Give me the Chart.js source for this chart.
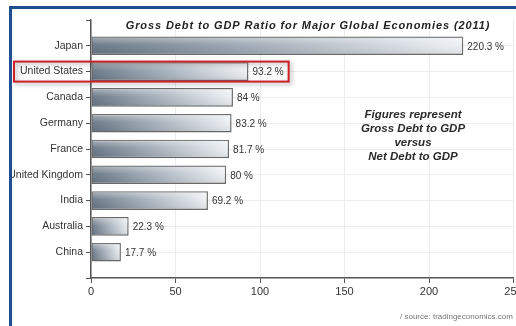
<!DOCTYPE html>
<html>
<head>
<meta charset="utf-8">
<script src="https://cdn.jsdelivr.net/npm/chart.js@4.4.1/dist/chart.umd.min.js"></script>
<style>
  html, body { margin: 0; padding: 0; background: #fff; overflow: hidden; width: 516px; height: 326px; }
  canvas { display: block; }
</style>
</head>
<body>
<canvas id="c" width="530" height="326"></canvas>
<script>
const countries = ['Japan', 'United States', 'Canada', 'Germany', 'France', 'United Kingdom', 'India', 'Australia', 'China'];
const debtToGdp = [220.3, 93.2, 84, 83.2, 81.7, 80, 69.2, 22.3, 17.7];
const xTicks = [0, 50, 100, 150, 200, 250];
const titleText = 'Gross Debt to GDP Ratio for Major Global Economies (2011)';
const noteLines = ['Figures represent', 'Gross Debt to GDP', 'versus', 'Net Debt to GDP'];
const highlighted = 'United States';
const sourceText = '/ source: tradingeconomics.com';

const FONT = '"Liberation Sans", Arial, sans-serif';
const labels = [''].concat(countries, ['']);
const values = [null].concat(debtToGdp, [null]);

function barFill(ctx) {
  const chart = ctx.chart;
  if (!chart.chartArea || ctx.raw == null) return '#8a97a4';
  const xs = chart.scales.x;
  const x0 = xs.getPixelForValue(0), x1 = xs.getPixelForValue(ctx.raw);
  const g = chart.ctx.createLinearGradient(x0, 0, x1, 0);
  g.addColorStop(0, '#66748383'.slice(0, 7));
  g.addColorStop(0.45, '#a2adb8');
  g.addColorStop(1, '#eef1f4');
  return g;
}

const decor = {
  id: 'decor',
  afterDatasetsDraw(chart) {
    const c = chart.ctx;
    const meta = chart.getDatasetMeta(0);
    c.save();
    meta.data.forEach((bar, i) => {
      const v = values[i];
      if (v == null) return;
      const top = bar.y - bar.height / 2;
      const g = c.createLinearGradient(0, top, 0, bar.y + bar.height / 2);
      g.addColorStop(0, 'rgba(255,255,255,0.45)');
      g.addColorStop(0.45, 'rgba(255,255,255,0.05)');
      g.addColorStop(1, 'rgba(0,0,0,0.08)');
      c.fillStyle = g;
      c.fillRect(bar.base + 1, top + 1, bar.x - bar.base - 2, bar.height - 2);
      c.fillStyle = '#333';
      c.font = '10px ' + FONT;
      c.textAlign = 'left';
      c.textBaseline = 'middle';
      c.fillText(v + ' %', bar.x + 4, bar.y + 1);
    });
    c.restore();
  },
  afterDraw(chart) {
    const c = chart.ctx;
    const xs = chart.scales.x, ys = chart.scales.y;
    c.save();
    c.fillStyle = '#222';
    c.font = 'italic bold 11px ' + FONT;
    c.textAlign = 'center';
    c.textBaseline = 'middle';
    c.letterSpacing = '0.9px';
    c.fillText(titleText, 308, 26);
    c.letterSpacing = '0px';
    c.font = 'italic 600 11.5px ' + FONT;
    c.fillStyle = '#2a2a2a';
    noteLines.forEach((t, i) => c.fillText(t, 413, 115 + i * 14));
    const idx = labels.indexOf(highlighted);
    const yc = ys.getPixelForValue(idx);
    c.font = '10px ' + FONT;
    const endX = xs.getPixelForValue(values[idx]) + 4 + c.measureText(values[idx] + ' %').width + 5;
    c.shadowColor = 'rgba(0,0,0,0.35)';
    c.shadowBlur = 4;
    c.shadowOffsetX = 2;
    c.shadowOffsetY = 2;
    c.strokeStyle = '#cc2027';
    c.lineWidth = 2;
    c.strokeRect(14, yc - 10, endX - 14, 20);
    c.shadowColor = 'transparent';
    c.font = '8px ' + FONT;
    c.fillStyle = '#777';
    c.textAlign = 'left';
    c.fillText(sourceText, 400, 317);
    c.fillStyle = '#fff';
    c.fillRect(0, 0, 9, 326);
    c.fillRect(0, 0, 530, 6);
    c.fillStyle = '#1f4f8f';
    c.fillRect(9, 6, 3, 320);
    c.fillRect(9, 6, 521, 3);
    c.restore();
  }
};

new Chart(document.getElementById('c'), {
  type: 'bar',
  data: {
    labels: labels,
    datasets: [{
      data: values,
      backgroundColor: barFill,
      borderColor: '#6a6a6a',
      borderWidth: 1.5,
      borderSkipped: false,
      barPercentage: 0.72,
      categoryPercentage: 1
    }]
  },
  options: {
    indexAxis: 'y',
    responsive: false,
    animation: false,
    devicePixelRatio: 1,
    layout: { padding: { top: 20, right: 16.5, bottom: 0, left: 0 } },
    plugins: { legend: { display: false }, tooltip: { enabled: false }, title: { display: false } },
    scales: {
      y: {
        type: 'category',
        offset: false,
        afterFit(s) { s.width = 91; },
        grid: {
          offset: false,
          color: (ctx) => (ctx.index === 0 || ctx.index === labels.length - 1) ? 'rgba(0,0,0,0)' : '#ececec',
          tickColor: '#555',
          tickLength: 5,
          lineWidth: 1
        },
        border: { color: '#555', width: 1.5 },
        ticks: { color: '#333', font: { family: FONT, size: 10.5 }, padding: 3, autoSkip: false }
      },
      x: {
        type: 'linear',
        min: xTicks[0],
        max: xTicks[xTicks.length - 1],
        afterFit(s) { s.height = 48; },
        afterBuildTicks(s) { s.ticks = xTicks.map(v => ({ value: v })); },
        grid: { color: '#ececec', tickColor: '#555', tickLength: 5 },
        border: { color: '#555', width: 1.5 },
        ticks: { color: '#333', font: { family: FONT, size: 11 }, padding: 2, maxRotation: 0 }
      }
    }
  },
  plugins: [decor]
});
</script>
</body>
</html>
